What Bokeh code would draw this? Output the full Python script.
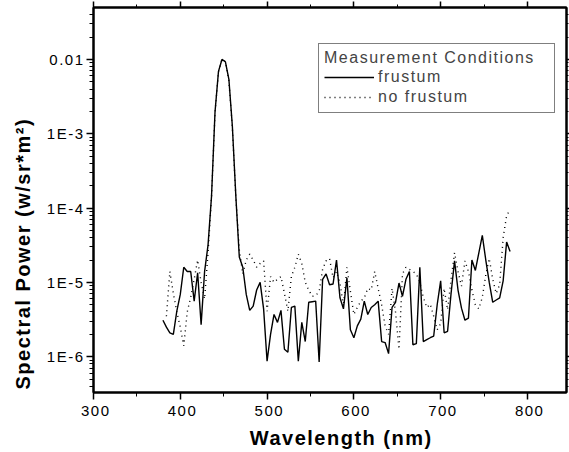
from bokeh.plotting import figure
from bokeh.models import (FixedTicker, Range1d, Legend, LegendItem, Title, LinearAxis, LogAxis,
                          ColumnDataSource, InlineStyleSheet)
from bokeh.embed import file_html
from bokeh.resources import INLINE

wavelength = list(range(380, 781, 4))

frustum = [
    3.1e-6, 2.5e-6, 2.1e-6, 2.0e-6, 4.1e-6, 6.9e-6, 1.6e-5, 1.4e-5, 1.4e-5, 5.6e-6,
    1.35e-5, 2.7e-6, 1.4e-5, 3.2e-5, 1.45e-4, 1.95e-3, 6.9e-3, 1.0e-2, 9.3e-3, 5.4e-3,
    1.26e-3, 1.45e-4, 2.2e-5, 1.6e-5, 6.9e-6, 4.2e-6, 4.8e-6, 7.9e-6, 1.0e-5, 4.4e-6,
    8.7e-7, 2.0e-6, 3.7e-6, 2.9e-6, 4.2e-6, 1.26e-6, 1.15e-6, 4.6e-6, 4.8e-6, 8.7e-7,
    2.9e-6, 1.6e-6, 5.4e-6, 5.5e-6, 5.6e-6, 8.5e-7, 1.1e-5, 1.3e-5, 9.3e-6, 9.5e-6,
    2.0e-5, 6.2e-6, 4.4e-6, 1.15e-5, 2.3e-6, 1.8e-6, 2.6e-6, 3.2e-6, 5.6e-6, 3.7e-6,
    4.6e-6, 5.0e-6, 5.6e-6, 1.6e-6, 1.55e-6, 1.1e-6, 4.6e-6, 5.4e-6, 9.8e-6, 6.5e-6,
    1.1e-5, 1.4e-5, 1.45e-6, 1.5e-6, 1.6e-5, 1.6e-6, 1.7e-6, 1.8e-6, 1.9e-6, 5.0e-6,
    1.05e-5, 2.1e-6, 2.2e-6, 7.1e-6, 1.95e-5, 7.9e-6, 4.5e-6, 3.1e-6, 3.3e-6, 2.0e-5,
    1.45e-5, 2.5e-5, 4.3e-5, 2.0e-5, 1.0e-5, 5.4e-6, 5.8e-6, 6.2e-6, 1.05e-5, 3.5e-5,
    2.6e-5,
]

no_frustum = [
    float("nan"), 3.5e-6, 1.4e-5, 7.1e-6, 4.0e-6, 2.5e-6, 1.4e-6, 4.0e-6, 6.3e-6, 1.1e-5,
    2.0e-5, 1.0e-5, 6.0e-6, 2.5e-5, 1.4e-4, 1.9e-3, 6.8e-3, 1.0e-2, 9.3e-3, 5.2e-3,
    1.2e-3, 1.4e-4, 2.75e-5, 1.3e-5, 2.0e-5, 2.4e-5, 2.0e-5, 1.6e-5, 1.8e-5, 1.95e-5,
    4.1e-6, 1.2e-5, 1.0e-5, 1.1e-5, 1.2e-5, 7.1e-6, 4.1e-6, 1.2e-5, 1.6e-5, 2.4e-5,
    1.8e-5, 1.0e-5, 7.9e-6, 6.5e-6, 6.6e-6, 7.6e-6, 1.5e-5, 1.95e-5, 2.1e-5, 1.15e-5,
    1.4e-5, 9.8e-6, 4.8e-6, 1.6e-5, 7.6e-6, 3.7e-6, 4.6e-6, 5.6e-6, 6.2e-6, 8.3e-6,
    7.9e-6, 1.4e-5, 8.3e-6, 5.0e-6, 2.6e-6, 2.0e-6, 8.3e-6, 4.0e-6, 1.26e-6, 1.3e-5,
    1.6e-5, 1.5e-5, 1.4e-5, 1.3e-5, 1.0e-5, 6.3e-6, 4.6e-6, 5.1e-6, 3.5e-6, 2.3e-6,
    2.8e-6, 8.3e-6, 4.3e-6, 1.1e-5, 2.5e-5, 1.4e-5, 8.9e-6, 1.95e-5, 1.4e-5, 7.9e-6,
    5.0e-6, 4.4e-6, 6.3e-6, 1.26e-5, 2.1e-5, 1.1e-5, 7.1e-6, 9.3e-6, 4.0e-5, 7.9e-5,
    9.5e-5,
]

x_ticks = [300, 400, 500, 600, 700, 800]
x_minor = [350, 450, 550, 650, 750]
y_ticks = [1e-6, 1e-5, 1e-4, 1e-3, 1e-2]
y_tick_labels = ["1E-6", "1E-5", "1E-4", "1E-3", "0.01"]
x_lim = (300, 845)
y_lim = (3.3e-7, 0.05)
y_minor = [m * 10.0 ** e for e in range(-7, -1) for m in range(2, 10)
           if y_lim[0] < m * 10.0 ** e < y_lim[1]]

FONT = "Liberation Sans"

p = figure(frame_width=473, frame_height=385, y_axis_type="log",
           x_range=Range1d(*x_lim), y_range=Range1d(*y_lim),
           output_backend="svg", toolbar_location=None,
           min_border_left=92, min_border_top=7, min_border_right=3, min_border_bottom=0)
p.stylesheets = [InlineStyleSheet(css=":host { letter-spacing: 1.5px; }")]
p.outline_line_color = "black"
p.outline_line_width = 2
p.xgrid.visible = False
p.ygrid.visible = False
p.background_fill_color = "white"

src = ColumnDataSource(dict(x=wavelength, f=frustum, n=no_frustum))
r1 = p.line("x", "f", source=src, line_color="black", line_width=1.4)
r2 = p.line("x", "n", source=src, line_color="black", line_width=1.4, line_dash="1 4")

def style(ax, major=7, minor=4):
    ax.axis_line_width = 2
    ax.axis_line_color = "black"
    ax.major_tick_in = 0
    ax.major_tick_out = major
    ax.minor_tick_in = 0
    ax.minor_tick_out = minor
    ax.major_tick_line_width = 1.5
    ax.minor_tick_line_width = 1
    ax.major_tick_line_color = "black"
    ax.minor_tick_line_color = "black"
    ax.major_label_text_font = FONT
    ax.major_label_text_font_size = "15px"
    ax.major_label_text_color = "black"
    ax.axis_label_text_font = FONT
    ax.axis_label_text_font_style = "bold"
    ax.axis_label_text_color = "black"

xa = p.xaxis[0]
style(xa)
xa.ticker = FixedTicker(ticks=x_ticks, minor_ticks=x_minor)
xa.axis_label = "Wavelength (nm)"
xa.axis_label_text_font_size = "20px"
xa.major_label_standoff = 6
xa.axis_label_standoff = 8

ya = p.yaxis[0]
style(ya)
ya.ticker = FixedTicker(ticks=y_ticks, minor_ticks=y_minor)
ya.major_label_overrides = {t: l for t, l in zip(y_ticks, y_tick_labels)}
ya.major_label_standoff = 8

top = LinearAxis(ticker=FixedTicker(ticks=x_ticks, minor_ticks=x_minor))
style(top, major=6, minor=3)
top.major_label_overrides = {t: "" for t in x_ticks}
top.major_label_standoff = 0
p.add_layout(top, "above")

right = LogAxis(ticker=FixedTicker(ticks=y_ticks, minor_ticks=y_minor))
style(right, major=4, minor=2)
right.major_label_overrides = {t: "" for t in y_ticks}
right.major_label_standoff = 0
p.add_layout(right, "right")

ytitle = Title(text="Spectral Power (w/sr*m²)", align="left", offset=3, standoff=19,
               text_font=FONT, text_font_size="20px", text_font_style="bold",
               text_color="black")
p.add_layout(ytitle, "left")

legend = Legend(items=[LegendItem(label="frustum", renderers=[r1]),
                       LegendItem(label="no frustum", renderers=[r2])],
                title="Measurement Conditions",
                location=(225, 279))
legend.border_line_color = "black"
legend.border_line_width = 1
legend.background_fill_color = "white"
legend.background_fill_alpha = 1
legend.padding = 5
legend.margin = 0
legend.spacing = 0
legend.label_height = 20
legend.glyph_height = 20
legend.glyph_width = 50
legend.label_standoff = 4
legend.label_width = 171
legend.label_text_font = FONT
legend.label_text_font_size = "16px"
legend.title_text_font = FONT
legend.title_text_font_size = "16px"
legend.title_text_font_style = "normal"
legend.title_standoff = 0
p.add_layout(legend, "center")

open("out.html", "w").write(file_html(p, INLINE))
